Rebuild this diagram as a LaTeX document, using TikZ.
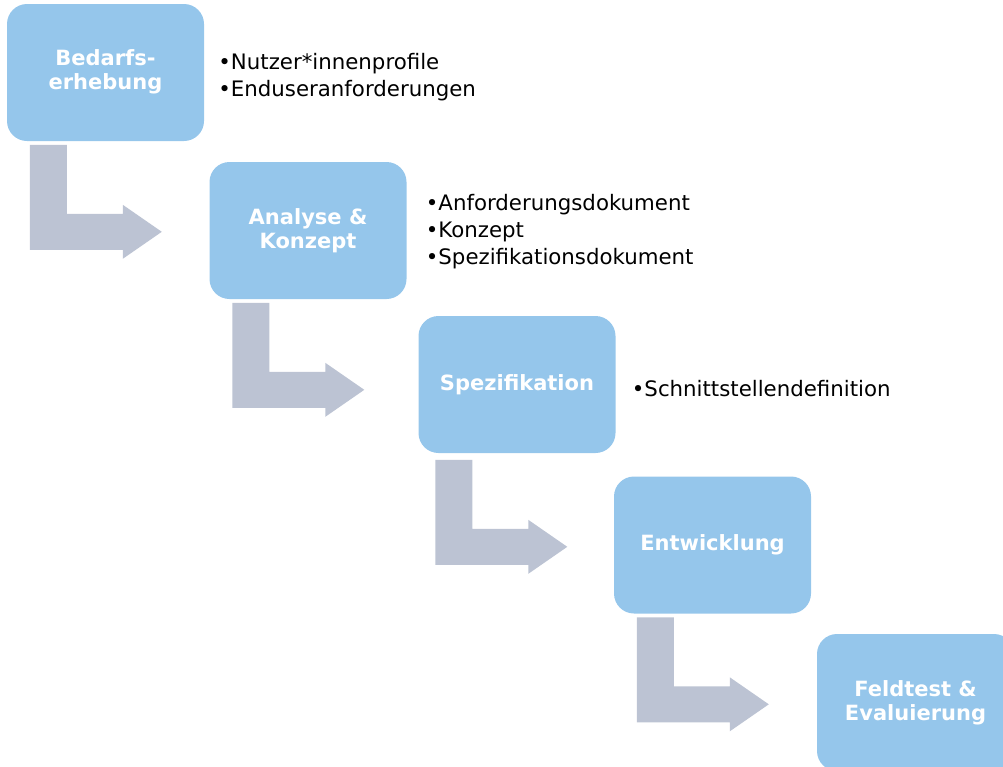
\documentclass[tikz,border=0pt]{standalone}
\usepackage{fontspec}
\setmainfont{DejaVu Sans}
\begin{document}
\begin{tikzpicture}[x=1pt,y=-1pt,
  box/.style={fill=boxblue, rounded corners=20pt, minimum width=197pt, minimum height=137pt,
    inner sep=0pt, align=center, text=white, font=\fontsize{21}{24}\selectfont\bfseries},
  items/.style={anchor=west, align=left, inner sep=0pt, text=black, font=\fontsize{21.3}{27}\selectfont},
  arr/.style={fill=arrowgray}]
\definecolor{boxblue}{HTML}{95C6EB}
\definecolor{arrowgray}{HTML}{BCC3D3}
\useasboundingbox (0,0) rectangle (1003,766);
\clip (0,0) rectangle (1003,766);
\node[box] (b1) at (105.5,72.5) {\raisebox{-3pt}{\begin{tabular}{@{}c@{}}Bedarfs-\\erhebung\end{tabular}}};
\node[box] (b2) at (308,230.5) {Analyse \&\\Konzept};
\node[box] (b3) at (517,384.5) {Spezifikation};
\node[box] (b4) at (712.5,545) {Entwicklung};
\node[box] (b5) at (915.5,702.5) {Feldtest \&\\Evaluierung};
\node[items] (l1) at ([xshift=14pt,yshift=-5pt]b1.east) {•Nutzer*innenprofile\\•Enduseranforderungen};
\node[items] (l2) at ([xshift=19pt,yshift=-1.5pt]b2.east) {•Anforderungsdokument\\•Konzept\\•Spezifikationsdokument};
\node[items] (l3) at ([xshift=16pt,yshift=-4pt]b3.east) {•Schnittstellendefinition};
\foreach \b/\dx/\dy in {b1/0/0, b2/0/0, b3/-6/3, b4/0/0}{
  \fill[arr, shift={(\b.north west)}, xshift=\dx pt, yshift=-\dy pt] (23,141) -- (60,141) -- (60,210) -- (116,210) -- (116,201)
     -- (155,228) -- (116,255) -- (116,246) -- (23,246) -- cycle;
}
\end{tikzpicture}
\end{document}
